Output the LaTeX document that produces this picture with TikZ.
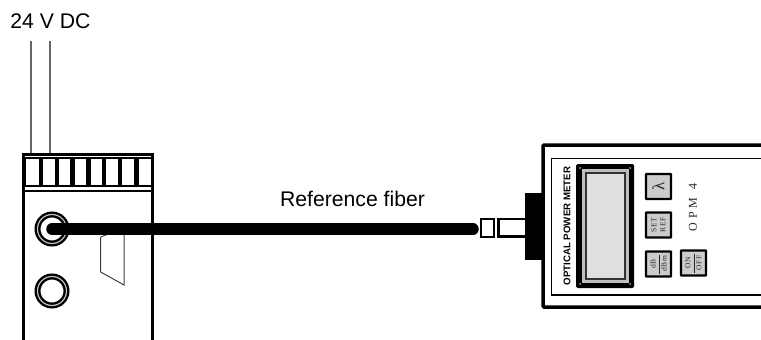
\documentclass[tikz,border=0pt]{standalone}
\usepackage{fontspec}
\setmainfont{Liberation Sans}
\newfontfamily\panelfont[LetterSpace=8]{Liberation Serif}
\usetikzlibrary{positioning}
\tikzset{
    wire/.style={gray!80!black,line width=1.1pt},
    jack/.style={circle,draw=black,line width=2.4pt,double=gray!50,double distance=1.2pt,fill=white,minimum size=29pt,inner sep=0pt},
    fiber/.style={line width=11.5pt,line cap=round},
    panelkey/.style={draw=black,line width=2.4pt,fill=gray!40,rounded corners=.5pt,minimum size=25pt,inner sep=0pt,rotate=90,text=gray!30!black,align=center},
    plugpart/.style={draw=black,line width=2.5pt,fill=white,inner sep=0pt}
}
\begin{document}
\begin{tikzpicture}[x=1pt,y=-1pt]
            \useasboundingbox (0,0) rectangle (761,340);

            \node[font=\fontsize{21.2}{22}\selectfont] (supply) at (50.5,21) {24 V DC};
            \coordinate (wireA) at (31,41);
            \coordinate (wireB) at (50,41);
            \coordinate (termA) at (31,154);
            \coordinate (termB) at (50,154);
            \draw[wire] (wireA) -- (termA);
            \draw[wire] (wireB) -- (termB);

            \draw[line width=2.5pt] (23.5,340) -- (23.5,154.5) -- (152.5,154.5) -- (152.5,340);
            \fill[black] (23,157) rectangle (153,187);
            \foreach \xa/\xb in {26/39,43/55,59/70,75/86,91/102,106/118,122/134,139/151}
                \fill[white] (\xa,159) rectangle (\xb,185);
            \draw[line width=1.3pt] (24,191) -- (152,191);

            \draw[gray!50!black,line width=1pt] (100.7,237) -- (100.7,272) -- (124,285) -- (124,233);
            \draw[gray!50!black,line width=1pt] (100.7,237) -- (107,234.5);

            \node[jack] (portA) at (52,229) {};
            \node[jack] (portB) at (52,291) {};

            \coordinate (fiberend) at (473,229);
            \draw[fiber] (portA.center) -- (fiberend);
            \node[font=\fontsize{21.2}{22}\selectfont] (fiberlabel) at (352.5,199) {Reference fiber};

            \fill[black] (525,193) rectangle (542,260);
            \node[plugpart,minimum width=13pt,minimum height=18pt] (ferrule) at (487.5,228) {};
            \draw[line width=2.5pt] (525,219) -- (498.5,219) -- (498.5,236.5) -- (525,236.5);

            \draw[line width=3.5pt,rounded corners=1pt] (762,145) -- (543,145) -- (543,307) -- (762,307);
            \draw[line width=1.2pt] (762,158.7) -- (551.5,158.7) -- (551.5,295) -- (762,295);

            \node[rotate=90,font=\bfseries\fontsize{9.7}{10}\selectfont] (title) at (567,226) {OPTICAL POWER METER};

            \fill[black,rounded corners=1.5pt] (576,164) rectangle (634,288);
            \fill[gray!50] (582,169) rectangle (629,283);
            \draw[gray!40!black,line width=1.4pt,fill=gray!25] (586,173) rectangle (625,279);
            \foreach \xc/\yc in {580/168,630/168,580/284,630/284}
                \fill[gray!70] (\xc,\yc) circle (1pt);

            \node[panelkey,font=\panelfont\fontsize{17}{17}\selectfont] (lambda) at (658.5,186.5) {λ};
            \node[panelkey,font=\panelfont\fontsize{7.5}{9}\selectfont] (setref) at (658.5,225) {SET\\REF};
            \node[panelkey,font=\panelfont\fontsize{7.5}{7.5}\selectfont] (dbkey) at (658.5,264) {dB\\[-1pt]\rule[2.2pt]{19pt}{.7pt}\\[-3pt]dBm};
            \node[panelkey,font=\panelfont\fontsize{7.5}{7.5}\selectfont] (onoff) at (693.5,263) {ON\\[-1pt]\rule[2.2pt]{19pt}{.7pt}\\[-3pt]OFF};

            \node[rotate=90,text=gray!30!black,font=\panelfont\fontsize{12}{12}\selectfont] (model) at (693,207.5) {O P M \ 4};
\end{tikzpicture}
\end{document}
